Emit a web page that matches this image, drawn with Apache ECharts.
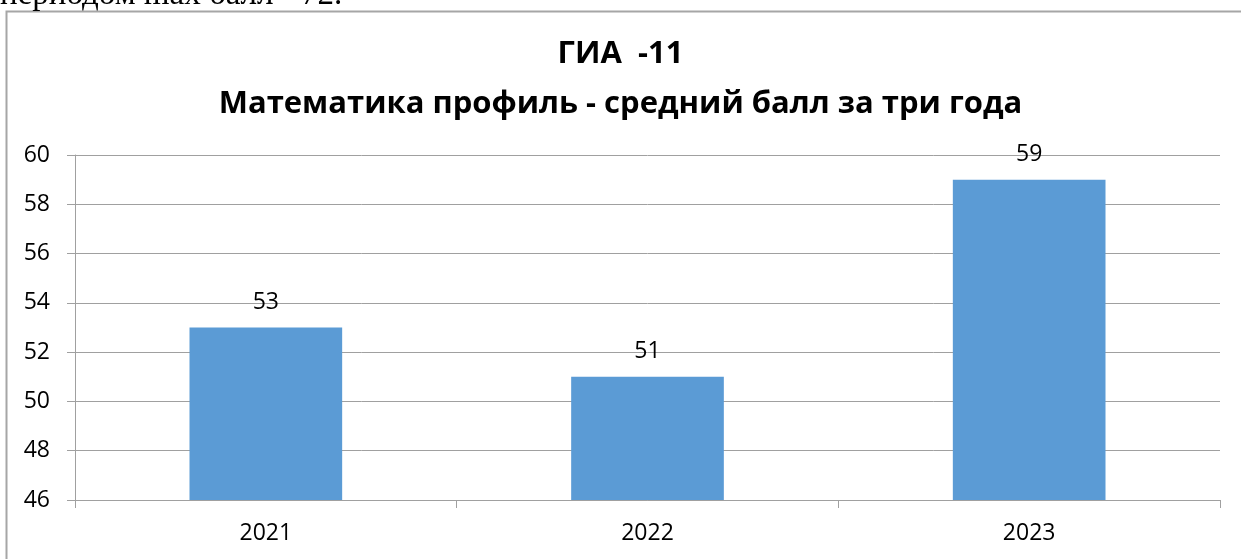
<!DOCTYPE html>
<html>
<head>
<meta charset="utf-8">
<script src="https://cdn.jsdelivr.net/npm/echarts@6/dist/echarts.min.js"></script>
<style>
  html, body { margin: 0; padding: 0; background: #fff; }
  #chart { width: 1241px; height: 559px; }
</style>
</head>
<body>
<div id="chart"></div>
<script>
// данные диаграммы
let years = ['2021', '2022', '2023'];
let avgScore = [53, 51, 59];
let titleLines = ['ГИА  -11', 'Математика профиль - средний балл за три года'];
let topNote = 'периодом max балл - 72.';

let chart = echarts.init(document.getElementById('chart'));

let option = {
  animation: false,
  title: {
    text: titleLines.join('\n'),
    left: 'center',
    top: 24,
    textStyle: {
      fontFamily: 'Open Sans',
      fontWeight: 'bold',
      fontSize: 31,
      lineHeight: 50,
      color: '#000'
    }
  },
  graphic: [
    {
      // рамка диаграммы
      type: 'rect',
      shape: { x: 6.5, y: 11.5, width: 1300, height: 600 },
      style: { fill: 'none', stroke: '#a6a6a6', lineWidth: 2 },
      silent: true
    },
    {
      // обрезанный текст документа над диаграммой
      type: 'text',
      left: 0,
      top: -21,
      style: {
        text: topNote,
        fontFamily: 'Liberation Serif',
        fontSize: 33,
        fill: '#000'
      }
    }
  ],
  grid: {
    left: 75,
    right: 21,
    top: 155,
    bottom: 59
  },
  xAxis: {
    type: 'category',
    data: years,
    axisLine: { lineStyle: { color: '#a0a0a0', width: 1 } },
    axisTick: { show: true, length: 8, alignWithLabel: false, lineStyle: { color: '#a0a0a0' } },
    axisLabel: {
      margin: 22,
      fontFamily: 'Open Sans',
      fontSize: 23,
      color: '#000'
    }
  },
  yAxis: {
    type: 'value',
    min: 46,
    max: 60,
    interval: 2,
    axisLine: { show: true, lineStyle: { color: '#a0a0a0', width: 1 } },
    axisTick: { show: true, length: 8, lineStyle: { color: '#a0a0a0' } },
    splitLine: { lineStyle: { color: '#a0a0a0', width: 1 } },
    axisLabel: {
      margin: 25,
      fontFamily: 'Open Sans',
      fontSize: 23,
      color: '#000'
    }
  },
  series: [{
    type: 'bar',
    data: avgScore,
    barWidth: '40%',
    itemStyle: { color: '#5b9bd5' },
    label: {
      show: true,
      position: 'top',
      distance: 14,
      fontFamily: 'Open Sans',
      fontSize: 23,
      color: '#000'
    }
  }]
};

chart.setOption(option);
</script>
</body>
</html>
